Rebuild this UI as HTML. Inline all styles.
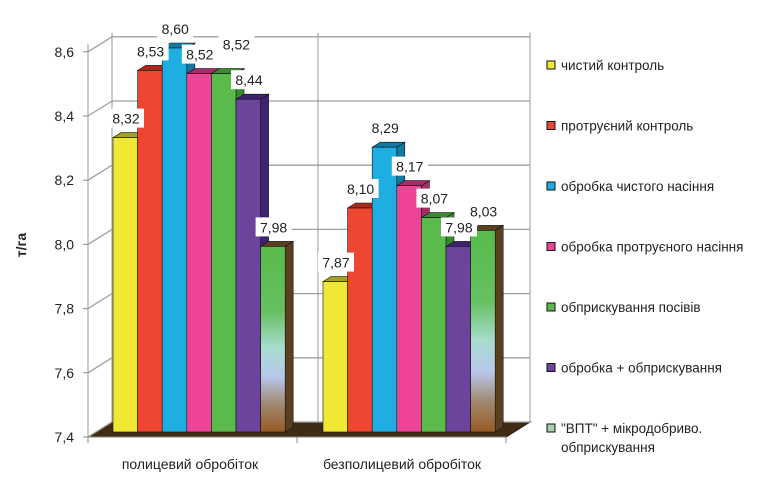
<!DOCTYPE html>
<html><head><meta charset="utf-8"><style>
body{margin:0;background:#fff;width:778px;height:493px;overflow:hidden;font-family:"Liberation Sans",sans-serif}
</style></head><body>
<svg id="chart" width="778" height="493" viewBox="0 0 778 493" font-family="Liberation Sans, sans-serif">
<defs>
<linearGradient id="g7" x1="0" y1="0" x2="0" y2="1">
<stop offset="0" stop-color="#58bb4a"/><stop offset="0.35" stop-color="#66c060"/><stop offset="0.55" stop-color="#a8dcd0"/><stop offset="0.7" stop-color="#b8c8ec"/><stop offset="0.85" stop-color="#a08870"/><stop offset="1" stop-color="#9a5a22"/>
</linearGradient>
</defs>
<g id="grid"></g>
<g id="bars"></g>
<g id="labels"></g>
<text transform="translate(26,245) rotate(-90)" text-anchor="middle" font-size="14" font-weight="bold" fill="#222">т/га</text>
<g id="legend"></g>
</svg>
<script>
const categories=["полицевий обробіток","безполицевий обробіток"];
const seriesNames=["чистий контроль","протруєний контроль","обробка чистого насіння","обробка протруєного насіння","обприскування посівів","обробка + обприскування","\"ВПТ\" + мікродобриво. обприскування"];
const controlValues=[8.32,7.87];
const treatedControl=[8.53,8.10];
const cleanSeed=[8.60,8.29];
const treatedSeed=[8.52,8.17];
const spraying=[8.52,8.07];
const treatSpray=[8.44,7.98];
const vptValues=[7.98,8.03];
const yTicks=[7.4,7.6,7.8,8.0,8.2,8.4,8.6];
const yTickLabels=["7,4","7,6","7,8","8,0","8,2","8,4","8,6"];
const series=[controlValues,treatedControl,cleanSeed,treatedSeed,spraying,treatSpray,vptValues];
const colors=["#f0e832","#ee4630","#1eaee2","#ee4498","#5abb4c","#6c449c","url(#g7)"];
const sideColors=["#a8a020","#a82a1c","#127aa0","#a82a6a","#3a8a30","#3e2470","#5a4020"];
const legendColors=["#f0e832","#ee4630","#1eaee2","#ee4498","#5abb4c","#6c449c","#a8d0b0"];
const NS="http://www.w3.org/2000/svg";
const yMin=7.4,yMax=8.6,base=432,scale=320,dx=24,dy=-15;
function y(v){return base-(v-yMin)*scale;}
function yFront(v){return 437-(v-yMin)*321;}
function el(t,a,p){const e=document.createElementNS(NS,t);for(const k in a)e.setAttribute(k,a[k]);p.appendChild(e);return e;}
const grid=document.getElementById('grid');
const gx0=88,gx1=506;
let f=el('polygon',{points:`${gx0},437 ${gx1},437 ${gx1+dx},422 ${gx0+dx},422`,fill:'#3e2c14',stroke:'#2a1a08'},grid);


yTicks.forEach((t,i)=>{
 const yf=yFront(t), yb=yf+dy;
 let l=el('polyline',{points:`${gx0},${yf} ${gx0+dx},${yb} ${gx1+dx},${yb}`,fill:'none',stroke:'#a0a0a0','stroke-width':1.3},grid);
 
 
 el('line',{x1:gx0-5,y1:yf,x2:gx0,y2:yf,stroke:'#888'},grid);
 let tx=el('text',{x:74,y:yf+5,'text-anchor':'end','font-size':14,fill:'#222'},grid);
 tx.textContent=yTickLabels[i];
 
 
});
el('line',{x1:gx0,y1:yFront(yMax)-8,x2:gx0,y2:437,stroke:'#999'},grid);
el('line',{x1:gx0+dx,y1:yFront(yMax)+dy-4,x2:gx0+dx,y2:422,stroke:'#999'},grid);
el('line',{x1:gx1+dx,y1:yFront(yMax)+dy-4,x2:gx1+dx,y2:422,stroke:'#999'},grid);
el('line',{x1:318,y1:yFront(yMax)+dy-4,x2:318,y2:422,stroke:'#999'},grid);
el('line',{x1:gx0,y1:437,x2:gx1,y2:437,stroke:'#888'},grid);
[88,297,506].forEach(x=>el('line',{x1:x,y1:437,x2:x,y2:443,stroke:'#888'},grid));
categories.forEach((c,i)=>{
 let tx=el('text',{x:[190,402][i],y:469,'text-anchor':'middle','font-size':14,fill:'#222'},grid);
 tx.textContent=c;
 
 
});
const bars=document.getElementById('bars'),labels=document.getElementById('labels');
const groupX=[113,323],bw=24.6,sd=8,st=5;
categories.forEach((c,gi)=>{
 series.forEach((s,si)=>{
  const v=s[gi],x=groupX[gi]+si*bw,yt=y(v);
  const g=el('g',{},bars);
  
  
  el('polygon',{points:`${x+bw},${yt} ${x+bw+sd},${yt-st} ${x+bw+sd},${base-st} ${x+bw},${base}`,fill:sideColors[si],stroke:'#111','stroke-width':0.6},g);
  el('polygon',{points:`${x},${yt} ${x+sd},${yt-st} ${x+bw+sd},${yt-st} ${x+bw},${yt}`,fill:sideColors[si],stroke:'#111','stroke-width':0.6},g);
  el('rect',{x:x,y:yt,width:bw,height:base-yt,fill:colors[si],stroke:'#111','stroke-width':0.6},g);
 });
});
categories.forEach((c,gi)=>{
 series.forEach((s,si)=>{
  const v=s[gi],x=groupX[gi]+si*bw,yt=y(v);
  let ox=0,oy=0;
  if(gi===0&&si===4){ox=12;oy=-10;}
  const lg=el('g',{},labels);
  
  
  el('rect',{x:x-5+ox,y:yt-29+oy,width:36,height:19,fill:'#fff'},lg);
  const t=el('text',{x:x+13+ox,y:yt-14+oy,'text-anchor':'middle','font-size':14,fill:'#222'},lg);
  t.textContent=v.toFixed(2).replace('.',',');
 });
});
const legend=document.getElementById('legend');
seriesNames.forEach((n,i)=>{
 const yy=70+i*60.5;
 const g=el('g',{},legend);
 
 
 el('rect',{x:547,y:yy-9,width:8,height:8,fill:legendColors[i],stroke:'#111','stroke-width':1},g);
 if(i<6){const t=el('text',{x:561,y:yy,'font-size':13.5,fill:'#222'},g);t.textContent=n;}
 else{const t=el('text',{x:561,y:yy,'font-size':13.5,fill:'#222'},g);t.textContent='"ВПТ" + мікродобриво.';
  const t2=el('text',{x:561,y:yy+19,'font-size':13.5,fill:'#222'},g);t2.textContent='обприскування';}
});
</script>
</body></html>
